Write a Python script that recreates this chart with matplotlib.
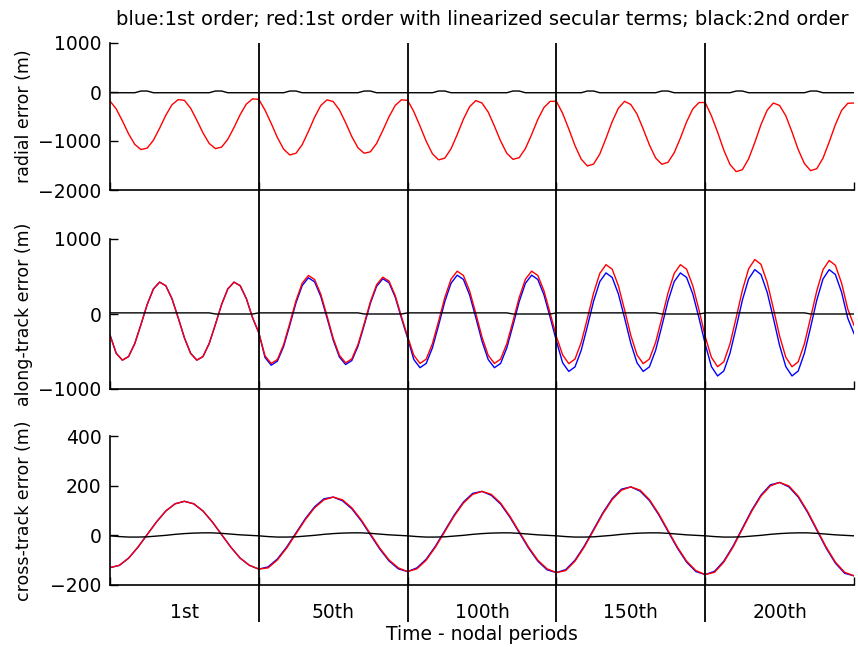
import numpy as np
import matplotlib
matplotlib.use("Agg")
import matplotlib.pyplot as plt

plt.rcParams["font.family"] = "DejaVu Sans"
plt.rcParams["font.size"] = 13.5

# windows of the propagation (one nodal period each)
periods = ["1st", "50th", "100th", "150th", "200th"]
title = "blue:1st order; red:1st order with linearized secular terms; black:2nd order"

# radial error (m), 24 samples per period window
radial_red = [
    -185, -345, -590, -855, -1070, -1175, -1145, -985, -740, -475, -260, -155,
    -170, -330, -575, -835, -1050, -1155, -1125, -965, -725, -460, -245, -140,
    -150, -370, -640, -930, -1165, -1285, -1250, -1075, -805, -515, -275, -160,
    -195, -365, -625, -910, -1140, -1250, -1220, -1050, -785, -505, -275, -160,
    -170, -400, -695, -1005, -1260, -1385, -1350, -1160, -870, -555, -300, -175,
    -225, -410, -695, -1000, -1250, -1375, -1340, -1155, -870, -560, -315, -190,
    -190, -435, -755, -1095, -1370, -1510, -1470, -1265, -945, -605, -330, -190,
    -255, -450, -755, -1080, -1345, -1475, -1435, -1240, -940, -610, -345, -215,
    -215, -485, -820, -1185, -1480, -1625, -1585, -1365, -1030, -665, -370, -225,
    -275, -485, -815, -1175, -1460, -1605, -1565, -1350, -1020, -665, -375, -230,
    -225,
]
radial_black = [
    -15, -15, -15, -15, -15, 20, 20, -15, -15, -15, -15, -15,
    -15, -15, -15, -15, -15, 20, 20, -15, -15, -15, -15, -15,
    -15, -15, -15, -15, -15, 20, 20, -15, -15, -15, -15, -15,
    -15, -15, -15, -15, -15, 20, 20, -15, -15, -15, -15, -15,
    -15, -15, -15, -15, -15, 20, 20, -15, -15, -15, -15, -15,
    -15, -15, -15, -15, -15, 20, 20, -15, -15, -15, -15, -15,
    -15, -15, -15, -15, -15, 20, 20, -15, -15, -15, -15, -15,
    -15, -15, -15, -15, -15, 20, 20, -15, -15, -15, -15, -15,
    -15, -15, -15, -15, -15, 20, 20, -15, -15, -15, -15, -15,
    -15, -15, -15, -15, -15, 20, 20, -15, -15, -15, -15, -15,
    -15,
]

# along-track error (m), 24 samples per period window
along_red = [
    -280, -524, -615, -567, -393, -139, 127, 334, 425, 377, 203, -51,
    -317, -524, -615, -567, -393, -139, 127, 334, 425, 377, 203, -51,
    -250, -557, -660, -606, -409, -122, 178, 411, 514, 460, 263, -24,
    -324, -550, -651, -599, -407, -128, 164, 390, 491, 439, 247, -32,
    -300, -551, -659, -602, -396, -96, 219, 463, 571, 514, 308, 8,
    -307, -551, -659, -602, -396, -96, 219, 463, 571, 514, 308, 8,
    -300, -545, -662, -601, -380, -58, 280, 541, 658, 597, 376, 54,
    -284, -545, -662, -601, -380, -58, 280, 541, 658, 597, 376, 54,
    -300, -577, -703, -638, -398, -48, 318, 601, 727, 662, 422, 72,
    -294, -577, -703, -638, -398, -48, 309, 591, 714, 649, 411, 65,
    -150,
]
along_blue = [
    -280, -524, -615, -567, -393, -139, 127, 334, 425, 377, 203, -51,
    -317, -524, -615, -567, -393, -139, 127, 334, 425, 377, 203, -51,
    -250, -580, -683, -629, -434, -149, 149, 380, 483, 429, 234, -51,
    -347, -573, -674, -621, -430, -150, 143, 369, 470, 417, 226, -54,
    -320, -607, -716, -659, -452, -151, 165, 409, 518, 461, 254, -47,
    -363, -607, -716, -659, -452, -151, 165, 409, 518, 461, 254, -47,
    -360, -650, -766, -705, -485, -164, 172, 432, 548, 487, 267, -54,
    -390, -650, -766, -705, -485, -164, 172, 432, 548, 487, 267, -54,
    -400, -701, -826, -760, -523, -177, 186, 467, 592, 526, 289, -57,
    -420, -701, -826, -760, -523, -177, 186, 467, 592, 526, 289, -57,
    -260,
]
along_black = [
    15, 15, 15, 15, 15, 15, 15, 15, 15, 15, 15, 15,
    15, 15, 15, 15, 15, 0, 0, 0, 0, 0, 0, 0,
    15, 15, 15, 15, 15, 15, 15, 15, 15, 15, 15, 15,
    15, 15, 15, 15, 15, 0, 0, 0, 0, 0, 0, 0,
    15, 15, 15, 15, 15, 15, 15, 15, 15, 15, 15, 15,
    15, 15, 15, 15, 15, 0, 0, 0, 0, 0, 0, 0,
    15, 15, 15, 15, 15, 15, 15, 15, 15, 15, 15, 15,
    15, 15, 15, 15, 15, 0, 0, 0, 0, 0, 0, 0,
    15, 15, 15, 15, 15, 15, 15, 15, 15, 15, 15, 15,
    15, 15, 15, 15, 15, 0, 0, 0, 0, 0, 0, 0,
    0,
]

# cross-track error (m), 16 samples per period window
cross_red = [
    -130, -121, -92, -48, 3, 54, 98, 127, 137, 127, 98, 54, 3, -48, -92, -121,
    -136, -131, -99, -51, 6, 63, 111, 143, 154, 143, 111, 63, 6, -51, -99, -131,
    -146, -135, -100, -47, 15, 77, 130, 165, 177, 165, 130, 77, 15, -47, -100, -135,
    -150, -142, -104, -47, 20, 87, 144, 182, 195, 182, 144, 87, 20, -47, -104, -142,
    -158, -149, -108, -47, 25, 97, 158, 199, 213, 199, 158, 97, 25, -47, -108, -149,
    -163,
]
cross_blue = [
    -130, -121, -92, -48, 3, 54, 98, 127, 137, 127, 98, 54, 3, -48, -92, -121,
    -136, -127, -95, -47, 10, 67, 115, 147, 154, 139, 107, 59, 2, -55, -103, -135,
    -146, -131, -96, -43, 19, 81, 134, 169, 177, 161, 126, 73, 11, -51, -104, -139,
    -150, -138, -100, -43, 24, 91, 148, 186, 195, 178, 140, 83, 16, -51, -108, -146,
    -158, -145, -104, -43, 29, 101, 162, 203, 213, 195, 154, 93, 21, -51, -112, -153,
    -163,
]
cross_black = [
    -2, -5, -7, -7, -6, -3, 0, 4, 7, 9, 10, 10, 8, 5, 2, 0,
    -2, -5, -7, -7, -6, -3, 0, 4, 7, 9, 10, 10, 8, 5, 2, 0,
    -2, -5, -7, -7, -6, -3, 0, 4, 7, 9, 10, 10, 8, 5, 2, 0,
    -2, -5, -7, -7, -6, -3, 0, 4, 7, 9, 10, 10, 8, 5, 2, 0,
    -2, -5, -7, -7, -6, -3, 0, 4, 7, 9, 10, 10, 8, 5, 2, 0,
    -2,
]

W, H = 858, 647
def box(l, t, r, b):
    return [l / W, 1 - b / H, (r - l) / W, (b - t) / H]

nseg = len(periods)
fig = plt.figure(figsize=(W / 100, H / 100), dpi=100)

panels = [
    (box(110, 43, 854, 190), "radial error (m)", (-2000, 1000), [-2000, -1000, 0, 1000],
     None, radial_red, radial_black),
    (box(110, 239, 854, 389), "along-track error (m)", (-1000, 1000), [-1000, 0, 1000],
     along_blue, along_red, along_black),
    (box(110, 436, 854, 585), "cross-track error (m)", (-200, 400), [-200, 0, 200, 400],
     cross_blue, cross_red, cross_black),
]

axes = []
for rect, ylab, ylim, yt, blue, red, black in panels:
    ax = fig.add_axes(rect)
    x = np.arange(len(red)) * nseg / (len(red) - 1)
    if blue is not None:
        ax.plot(x, blue, color="#0000ff", lw=1.0)
    ax.plot(x, red, color="#ff0000", lw=1.0)
    ax.plot(x, black, color="black", lw=1.0)
    ax.set_xlim(0, nseg)
    ax.set_ylim(*ylim)
    ax.set_yticks(yt)
    ax.set_xticks(range(nseg + 1))
    ax.set_xticklabels([])
    for s in ["top", "right"]:
        ax.spines[s].set_visible(False)
    for s in ["left", "bottom"]:
        ax.spines[s].set_linewidth(1.2)
    ax.tick_params(direction="in", length=6, width=1.0, pad=6)
    ax.set_ylabel(ylab, fontsize=12.5)
    ax.yaxis.set_label_coords(-0.103, 0.5)
    axes.append(ax)

axes[0].set_title(title, pad=13, fontsize=14)

bot = axes[-1]
bot.set_xticks(np.arange(nseg) + 0.5, minor=True)
bot.set_xticklabels(periods, minor=True)
bot.tick_params(axis="x", which="minor", length=0, pad=13)
bot.set_xlabel("Time - nodal periods")
bot.xaxis.set_label_coords(0.5, -0.27)

# segment separators running through all panels
ov = fig.add_axes(box(110, 43, 854, 622))
ov.set_xlim(0, nseg)
ov.axis("off")
for b in range(1, nseg):
    ov.axvline(b, color="black", lw=1.3)

fig.savefig("out.png", dpi=100)
